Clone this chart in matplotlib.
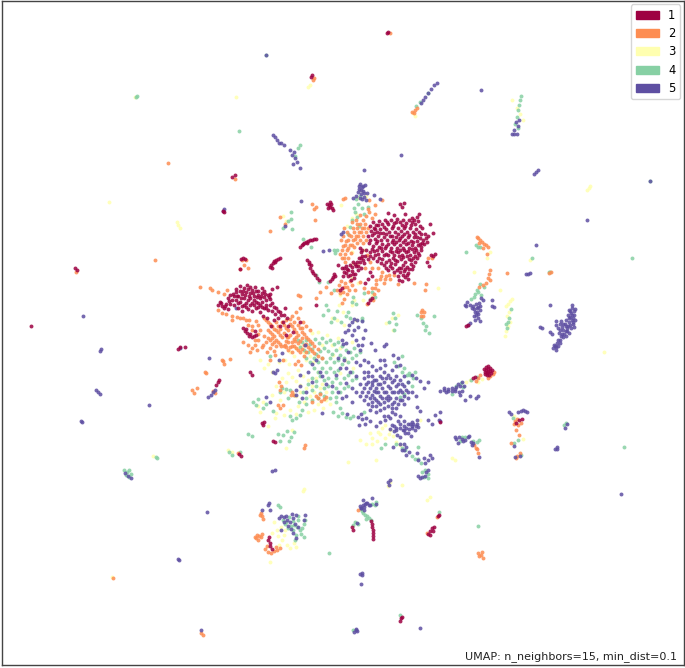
import numpy as np
import matplotlib
matplotlib.use("Agg")
import matplotlib.pyplot as plt
from matplotlib.patches import Patch

# points, in picture coordinates
labels = ["1", "2", "3", "4", "5"]
colors = ["#9e0142", "#fd8d52", "#ffffb0", "#87d0a4", "#5e4fa2"]

pts_1 = [(388,32),(387,33),(312,75),(311,77),(75,268),(77,270),(31,326),(232,177),(235,175),(223,211),(224,212),
    (401,618),(400,621),(402,617),(180,347),(178,349),(216,385),(218,382),(219,380),(250,372),(252,375),(262,423),(263,425),
    (273,441),(275,442),(440,422),(466,326),(468,325),(473,378),(475,377),(519,420),(522,419),(516,423),
    (268,540),(270,543),(270,546),(272,549),(269,537),(352,527),(353,530),(371,521),(372,524),(372,527),(373,530),(373,533),(373,536),(373,539),
    (428,534),(430,531),(432,528),(430,535),(433,531),(434,527),(439,515),(438,516),(264,422),(239,454),(241,456),(185,347),
    # blob at the right
    (484,369),(485,372),(486,367),(486,370),(487,373),(488,366),(488,369),(488,372),(489,375),(490,368),(490,371),(491,373),(485,374),(487,375),(492,370),
    # streaks
    (300,247),(302,245),(304,243),(306,242),(308,241),(310,240),(312,240),(314,239),(316,239),(303,244),(307,243),(270,267),(271,265),(273,263),(274,261),(276,260),(278,259),(280,258),(272,268),(275,262),
    (307,260),(309,262),(311,265),(310,268),(312,271),(313,273),(309,264),(315,275),(317,278),(319,280),(330,281),(332,279),(333,277),(335,276),(334,274),
    (327,204),(329,205),(331,204),(330,207),(332,208),(328,208),(333,210),(330,202),(241,259),(243,258),(245,259),(240,269),
    (243,328),(245,331),(247,333),(249,336),(252,337),(254,336),(256,335),(255,331),(250,334),(246,329),
    # left cluster
    (218,305),(220,302),(222,306),(224,308),(226,304),(228,309),(230,304),(232,300),(234,296),(236,292),(238,296),(240,291),(242,294),(244,288),(246,292),(248,289),
    (250,293),(252,290),(254,296),(256,291),(258,295),(260,298),(262,293),(264,297),(266,300),(268,295),(270,299),(272,303),(236,300),(240,302),(244,298),(248,300),
    (252,303),(256,302),(260,305),(264,308),(268,310),(272,311),(276,308),(280,312),(284,315),(287,318),(244,305),(248,309),(252,311),(256,308),(260,312),(250,298),
    (254,300),(258,307),(234,305),(238,308),(242,311),(246,303),(240,286),(247,285),(255,287),(262,288),(272,289),(277,287),(233,294),(228,298),(262,302),(266,305),
    (278,318),(283,322),(280,326),(288,326),(293,332),(271,326),(274,320),(267,318),(263,316),(285,308),(300,322),(286,335),
    # big cluster
    (370,226),(373,222),(376,225),(379,221),(382,224),(385,220),(388,224),(391,220),(394,223),(397,219),(400,222),(403,220),(406,223),(409,220),(412,222),(415,224),(418,221),
    (371,231),(374,228),(377,232),(380,229),(383,233),(386,229),(389,232),(392,228),(395,232),(398,228),(401,231),(404,228),(407,232),(410,228),(413,232),(416,229),(419,232),(422,228),(425,234),(428,236),
    (368,236),(372,235),(375,239),(378,236),(381,240),(384,237),(387,240),(390,236),(393,240),(396,237),(399,240),(402,236),(405,240),(408,237),(411,241),(414,237),(417,241),(420,238),(423,240),(426,238),
    (369,243),(373,246),(376,243),(379,247),(382,244),(385,248),(388,244),(391,248),(394,244),(397,248),(400,245),(403,248),(406,244),(409,248),(412,245),(415,248),(418,245),(421,247),(424,244),
    (366,250),(370,252),(374,251),(378,254),(382,251),(386,254),(390,251),(394,255),(398,252),(402,255),(406,252),(410,255),(414,252),(418,253),(421,250),
    (368,259),(373,258),(377,261),(382,259),(389,260),(393,258),(397,261),(401,259),(405,262),(409,259),(413,258),(417,258),
    (384,265),(390,266),(395,264),(399,268),(403,265),(407,267),(411,264),(415,262),(388,270),(394,272),(400,272),(404,271),(408,273),(412,269),(398,276),(405,277),(402,281),(408,279),(400,204),
    (402,207),(404,203),(388,213),(394,215),(405,214),(412,218),(417,217),(419,214),(430,224),(433,233),(435,254),(433,256),(431,255),(427,262),(429,266),
    (360,248),(361,252),(362,256),(363,260),(364,263),(359,258),(357,262),(356,266),(353,262),(350,265),(346,266),(342,268),(344,272),(348,270),(352,271),(355,274),
    (358,270),(361,268),(348,276),(351,280),(354,278),(343,276),(370,272),(372,276),(368,279),(365,283),(372,298),(370,300),(368,303),(342,288),(340,290),(316,305),(338,265)]

# denser filling of the crimson masses
core_1 = [(375,229),(378,225),(384,227),(387,222),(393,226),(396,222),(402,225),(405,226),(411,225),(414,220),(420,226),(370,240),(374,233),(377,241),(380,233),(386,234),(392,236),(398,234),(404,234),(409,235),(415,234),(421,234),
    (372,249),(377,250),(381,248),(386,246),(392,242),(396,242),(400,238),(403,242),(408,243),(413,242),(417,237),(422,243),(427,242),(379,258),(384,255),(388,255),(392,252),(396,251),(400,250),(404,250),(408,251),(412,249),(416,250),
    (420,244),(370,256),(375,255),(381,263),(386,262),(391,263),(395,260),(399,256),(403,257),(407,256),(411,260),(415,256),(419,255),(386,268),(392,268),(397,270),(401,268),(405,269),(409,269),(413,266),(403,275),(407,275),(399,280),
    (221,303),(225,306),(229,301),(237,296),(241,298),(245,295),(249,296),(253,293),(257,297),(261,296),(265,294),(269,297),(238,303),(242,306),(246,307),(250,305),(254,305),(258,303),(262,307),(266,308),(270,305),(236,289),(243,291),
    (250,287),(258,291),(264,291),(270,294),(230,295),(274,307),(278,311),(281,315),(275,314),(355,264),(358,266),(352,267),(347,269),(344,268),(350,275),(353,274),(346,273),(361,258),(360,262),(362,250),(365,256)]

pts_2 = [(390,33),(313,80),(314,78),(76,272),(223,361),(230,359),(168,163),(235,179),(201,633),(203,635),(238,453),(113,578),(155,260),
    (478,238),(480,240),(482,242),(484,244),(486,245),(488,247),(477,237),(479,243),(483,248),(487,254),(490,270),(489,274),(488,278),(486,283),(490,280),(483,285),(479,287),(507,273),
    (415,110),(414,113),(412,112),(417,108),(551,272),(549,273),(516,430),(518,425),(515,421),(519,435),(520,453),(517,456),(516,458),(511,443),(478,453),(476,448),(474,445),(477,449),
    (478,378),(480,375),(476,381),(493,374),(490,376),(488,378),(494,372),(514,424),(521,423),(517,419),
    (257,535),(259,536),(261,537),(256,538),(258,540),(255,537),(262,534),(261,513),(262,516),(263,519),(260,515),(268,552),(271,553),(274,551),(277,550),(265,549),(267,546),(276,547),(280,548),
    (478,553),(481,555),(483,558),(479,556),(482,552),(427,533),(437,517),(358,510),(345,198),(343,199),
    (285,345),(288,342),(292,346),(295,341),(278,405),(280,408),(283,405),(316,396),(318,398),(321,401),(324,399),(326,397),(320,394),(312,402),(305,445),(304,448),(291,395),(292,392),(294,395),
    (279,382),(281,386),(280,390),(258,340),(255,345),(257,350),(262,347),(267,352),(270,348),(274,351),(276,346),(281,346),(287,337),(278,342),(272,338),(301,365),(298,361),(295,364),
    (256,321),(258,325),(252,326),(248,325),(246,320),(243,318),(240,318),(237,317),(232,316),(226,314),(222,313),(218,310),(212,290),(210,288),(218,292),(224,294),(227,290),
    # lower left fan
    (264,318),(268,322),(272,326),(276,322),(280,329),(284,325),(288,330),(292,326),(296,332),(300,328),(304,334),(308,339),(312,343),(318,349),(270,332),(274,336),(278,332),(282,337),(286,341),(290,335),
    (294,339),(298,343),(302,338),(306,344),(310,349),(314,353),(318,356),(322,358),(260,330),(264,336),(268,338),(272,344),(276,340),(284,346),(288,350),(292,352),(296,348),(300,352),(304,356),
    (286,320),(292,316),(296,312),(298,318),(303,322),(306,326),(310,330),(300,308),(298,295),(300,296),(255,340),(258,334),(252,330),(243,342),(248,345),(252,348),(263,345),(249,320),(283,360),
    (232,320),(270,360),(275,355),(250,352),
    # upper cluster edge
    (342,250),(345,254),(348,258),(351,253),(354,247),(357,243),(360,240),(363,236),(366,232),(345,245),(348,240),(351,236),(354,232),(357,228),(360,224),(363,220),(366,216),(369,212),(372,218),(375,214),
    (342,258),(345,262),(350,245),(353,240),(356,236),(359,232),(362,228),(365,224),(368,228),(352,222),(356,220),(360,215),(347,232),(343,236),(341,240),(344,228),(367,255),(370,262),(365,268),(372,268),(378,268),
    (382,272),(386,276),(390,279),(394,275),(380,279),(384,283),(376,284),(372,288),(378,290),(352,285),(349,290),(347,294),(344,299),(342,303),(350,281),(345,283),(341,281),(339,285),(337,290),(343,292),
    (355,290),(360,282),(364,288),(368,292),(374,294),(376,280),(425,290),(426,284),(421,312),(423,316),(421,316),(424,312),(422,310),(368,209),(375,205),(369,200),(382,200),(320,292),(316,298),(331,293),
    (373,300),(367,304),(200,287),(398,284),(414,283),(312,204),(314,209),(316,207),(326,287),
    (315,220),(280,217),(270,231),(240,269),(244,265),(248,268),(242,260),(246,260),(285,224),(428,258),(432,258),
    (197,388),(192,390),(194,393),(205,372),(206,373),(222,360),(224,364),(215,393),(213,391)]

core_2 = [(266,320),(270,324),(274,329),(278,326),(282,322),(286,328),(290,324),(294,329),(298,335),(302,332),(306,337),(310,341),(314,346),(268,330),(272,334),(276,330),(280,335),(284,333),(288,337),(292,342),(296,337),(300,341),(304,345),
    (308,347),(312,351),(266,342),(270,340),(274,342),(280,344),(286,347),(290,347),(294,346),(298,350),(302,349),(306,352),(294,322),(298,325),(302,328),(290,319),(348,248),(352,245),(355,239),(358,236),(361,232),(364,228),(349,235),
    (346,241),(343,246),(353,228),(357,224),(347,250),(344,258),(340,254),(363,243),(366,240),(381,276),(385,279),(389,275),(375,288),(347,287),(344,287),(340,293)]

pts_3 = [(109,202),(135,97),(236,97),(178,225),(180,228),(177,222),(153,456),(310,85),(308,87),(413,113),(590,186),(587,190),(589,188),(604,352),(112,577),
    (510,301),(512,299),(508,304),(506,306),(510,322),(508,326),(506,331),(505,336),(507,316),(509,312),(304,489),(303,491),(376,460),(348,462),(474,272),(487,258),
    (438,288),(385,425),(390,430),(382,428),(378,432),(393,436),(385,438),(380,434),(389,434),(400,445),(396,442),(372,438),(352,252),(353,263),(341,205),(283,216),(286,221),
    (270,562),(282,540),(284,535),(279,545),(287,545),(290,548),(296,547),(294,543),(277,530),(281,527),(285,530),(274,522),(278,536),(272,533),
    (288,373),(292,377),(296,381),(300,385),(286,382),(282,378),(279,362),(285,360),(289,364),(294,356),(290,352),(296,348),(300,346),(304,352),(310,356),(306,360),(313,362),(318,372),
    (298,370),(303,376),(308,380),(312,386),(316,378),(322,384),(326,392),(314,392),(320,388),(306,388),(300,392),(296,396),(310,396),(304,402),(298,406),(326,400),(330,404),(318,404),(323,408),(314,410),(308,412),
    (272,372),(268,364),(264,368),(260,360),(284,392),(276,386),(280,400),(272,395),(260,412),(258,406),(263,402),(290,410),(296,414),(284,415),(275,418),(340,373),(345,360),(352,342),(344,325),(338,338),
    (332,345),(322,345),(327,335),(318,332),(312,333),(356,320),(372,295),(352,305),(339,305),(343,312),(332,318),(337,320),(363,300),(358,283),(352,278),(358,265),(393,330),(392,318),(398,315),(386,323),
    (364,250),(340,295),(354,300),(356,214),(352,218),(347,226),(361,190),(358,198),(366,196),(415,116),(512,100),(520,114),(523,120),(517,108),(530,260),(490,252),(500,290),(478,382),(482,379),(466,382),(470,380),
    (276,413),(268,426),(292,430),(286,448),(228,450),(232,452),(523,439),(514,416),(420,420),(360,440),(366,444),(372,444),(377,441),(370,433),(455,460),(452,458),(402,485),(430,497),(427,500),(390,482),(388,486),(353,368),(340,348),(333,355)]

pts_4 = [(136,97),(137,96),(650,181),(632,258),(156,457),(157,458),(127,472),(129,470),(131,474),(126,475),(124,470),(129,477),(564,425),(566,423),(624,447),(549,272),(266,55),(239,131),
    (428,93),(420,102),(416,106),(518,110),(519,105),(520,100),(521,96),(517,117),(515,124),(518,128),(295,156),(298,148),(300,145),(508,322),(507,328),(506,324),(509,318),(511,309),(480,284),(484,287),(477,290),(474,297),(471,299),
    (478,292),(481,295),(475,294),(466,252),(476,245),(478,247),(480,247),(550,272),(532,258),(518,440),(514,443),(462,437),(465,437),(460,441),(473,441),(477,442),(479,440),(471,380),(477,377),(461,383),(463,387),(456,386),(452,394),
    (283,435),(287,431),(291,437),(289,441),(278,434),(280,441),(294,432),(232,455),(240,452),(229,452),(270,356),(258,399),(253,402),(256,405),(263,408),(273,411),(266,404),(248,434),(252,436),
    # stem up from centre
    (360,196),(358,204),(362,208),(355,212),(352,220),(357,217),(359,226),(350,227),(364,214),(356,199),(354,208),(368,207),(348,234),(291,212),(288,221),(291,219),(283,228),(292,229),(303,239),(311,247),(334,250),
    (335,253),(337,250),(316,275),(319,282),(328,282),(334,290),(326,305),(328,310),(323,315),(337,311),(334,318),(331,322),(346,316),(350,318),(348,312),(341,322),(356,304),(353,297),(364,293),(370,299),(375,297),(352,302),
    (393,313),(395,318),(389,322),(396,324),(394,330),(421,318),(425,330),(429,333),(426,326),(434,316),(417,315),(423,323),(372,292),(362,318),(362,320),
    # centre mass
    (298,340),(302,342),(306,340),(310,344),(315,339),(319,343),(322,338),(326,342),(330,340),(334,344),(338,342),(342,346),(346,350),(350,352),(354,348),(300,347),(304,350),(308,352),(312,349),(316,354),(320,351),
    (324,348),(328,351),(332,354),(336,350),(340,355),(344,358),(348,362),(352,358),(356,355),(360,352),(306,358),(310,362),(314,358),(318,362),(322,358),(326,362),(330,358),(334,362),(338,360),(342,364),(330,368),(326,372),
    (322,368),(318,372),(314,368),(334,372),(338,370),(320,376),(316,381),(324,380),(328,378),(332,382),(336,378),(340,383),(344,378),(348,375),(352,372),(312,378),(308,384),(312,390),(316,386),(320,393),(324,388),(328,386),
    (332,392),(336,388),(340,392),(344,388),(348,386),(352,380),(356,378),(303,392),(306,398),(299,402),(294,395),(290,390),(286,389),(282,388),(280,392),(288,398),(306,404),(312,400),(318,398),(324,396),(330,398),(336,397),
    (302,410),(300,415),(296,418),(292,420),(290,416),(340,408),(336,402),(333,412),(338,416),(342,413),(346,417),(350,418),(353,416),(364,412),(394,362),(398,366),(402,372),(404,368),(402,356),(409,373),(413,378),
    (415,372),(408,382),(412,386),(404,394),(400,397),(407,375),(410,375),(381,448),(385,444),(396,444),(402,448),(405,450),(412,456),(415,459),(418,459),(421,463),(424,477),(428,474),(425,470),(422,472),(428,478),
    (278,505),(280,507),(283,520),(285,524),(288,528),(291,526),(294,525),(297,527),(293,521),(298,520),(289,517),(286,522),(300,530),(302,528),(304,524),(293,530),(296,535),(301,534),(304,537),(295,540),(298,516),(305,520),
    (361,509),(363,513),(365,515),(367,516),(369,518),(366,519),(362,511),(371,520),(355,522),(358,524),(353,525),(375,505),(376,502),(372,504),(439,512),(478,526),(329,553),(353,630),(400,615),(418,447),(521,455),(513,418)]

pts_5 = [(266,55),(357,631),(356,629),(354,632),(401,155),(364,170),(481,90),(536,172),(538,170),(534,174),(650,181),(587,220),(179,560),(178,559),(207,512),(621,494),(557,449),(550,305),
    (275,137),(277,140),(273,135),(279,143),(284,145),(294,152),(292,155),(295,158),(290,150),(281,143),(297,162),(293,164),(300,168),
    (423,100),(425,97),(428,93),(431,89),(434,85),(437,83),(421,103),(516,122),(518,126),(514,130),(517,134),(514,134),(519,120),(512,134),
    (83,316),(100,351),(101,349),(96,390),(98,392),(100,394),(82,422),(81,421),(149,405),(180,348),(209,358),(208,397),(211,395),(213,392),(215,390),(125,473),(128,476),(131,478),(236,308),(305,345),(262,510),
    # stem at the top
    (360,184),(362,187),(359,189),(363,191),(361,194),(364,197),(358,192),(366,200),(362,199),(367,193),(365,185),(356,196),(353,198),(374,195),(380,199),(301,201),(223,211),(224,209),(323,251),(329,250),
    (285,226),(343,232),(341,234),
    # right mass
    (572,308),(574,311),(571,313),(574,315),(570,317),(572,320),(575,320),(569,322),(573,324),(568,326),(571,328),(574,327),(565,324),(562,327),(560,324),(558,328),(556,325),(563,330),(566,331),
    (569,333),(566,336),(562,334),(559,333),(563,337),(560,340),(557,343),(555,346),(558,346),(553,348),(556,350),(540,327),(542,328),(550,332),(552,334),(556,321),(575,309),(572,305),(569,318),(567,328),(561,321),
    # right-hand small groups
    (467,302),(470,305),(473,306),(465,305),(476,304),(479,303),(481,298),(483,300),(478,307),(474,309),(477,312),(480,310),(476,315),(478,318),(475,320),(480,321),(492,300),(492,306),(494,307),(470,323),(468,325),
    (536,245),(528,274),(530,273),(526,274),(440,391),(444,390),(448,389),(452,388),(456,387),(460,386),(462,382),(464,386),(458,384),(455,391),(459,392),(462,391),
    (509,412),(511,414),(518,412),(521,411),(525,411),(527,412),(523,410),(555,449),(557,447),(565,428),(567,424),(514,446),(459,437),(462,439),(465,440),(471,442),(473,443),(468,437),(520,456),(515,457),
    (440,421),(439,420),(469,436),(463,441),(458,443),(456,439),(472,445),(365,504),(369,505),(367,503),(372,498),(363,500),(361,508),(364,507),(360,506),
    # centre mass
    (352,335),(354,330),(358,327),(356,340),(358,345),(360,350),(362,345),(348,330),(352,322),(357,320),(365,330),(363,338),(348,352),(344,360),(340,368),(336,375),(346,368),(350,372),(356,362),(360,365),
    (364,360),(368,362),(372,366),(376,370),(380,368),(368,372),(372,376),(376,380),(380,376),(384,372),(388,375),(392,370),(396,376),(400,380),(404,376),(364,378),(368,382),(372,385),(376,388),(380,384),
    (384,382),(388,386),(392,382),(396,386),(400,390),(404,386),(408,382),(360,384),(364,388),(368,392),(372,395),(376,392),(380,396),(384,392),(388,396),(392,392),(396,398),(400,400),(404,396),(408,392),
    (356,392),(360,396),(364,400),(368,404),(372,402),(376,400),(380,404),(384,402),(388,400),(392,404),(352,402),(346,396),(342,398),(338,392),(332,386),(326,384),(346,383),(352,388),(356,376),(412,375),
    (416,378),(420,381),(424,388),(428,382),(412,392),(416,396),(408,398),(404,404),(396,408),(392,412),(388,416),(376,412),(370,410),(366,418),(361,414),(347,414),(384,416),(380,422),(376,426),(370,421),(365,424),
    (385,420),(390,418),(395,414),(400,416),(404,421),(362,419),(358,417),(359,425),(444,388),(446,392),(320,372),(316,360),(312,364),(322,376),(308,372),(312,382),(300,375),(296,395),(302,398),(322,413),(306,392),
    (279,360),(282,353),(277,370),(275,373),(273,372),(270,402),(266,397),(300,386),(296,390),(338,358),(342,340),(346,343),
    (349,325),(345,332),(343,344),(384,346),(386,344),(371,343),(362,321),(354,319),(375,350),(380,360),(385,365),(393,355),(384,360),(400,365),(398,358),(396,366),
    (420,411),(417,407),(408,424),(404,426),(400,424),(396,428),(392,425),(398,421),(390,429),(394,431),(403,430),(406,428),(409,429),(412,428),(415,430),(418,427),(413,424),(417,424),(417,420),(412,422),(411,436),(405,433),
    (400,437),(397,435),(400,444),(404,444),(402,450),(406,447),(409,452),(406,455),(404,450),(417,453),(418,460),(425,463),(428,460),(432,458),(424,458),(430,455),(422,477),(425,476),(418,476),(420,478),(426,472),(428,470),
    (455,437),(479,457),(389,485),(388,482),(390,480),(478,396),(476,398),(470,396),(465,400),(460,395),(428,420),(432,424),(440,412),(435,415),(393,447),
    # cluster below
    (268,505),(269,503),(270,510),(279,518),(281,516),(284,517),(286,516),(287,520),(290,522),(293,518),(296,515),(292,514),(288,526),(295,524),(298,527),(291,529),(293,533),(296,538),(304,520),(305,515),(281,530),(284,522),
    (361,508),(363,505),(366,503),(370,505),(364,510),(376,504),(357,523),(361,584),(362,575),(360,574),(362,573),(275,470),(272,471),(201,630),(356,630),(420,628)]

core_5 = [(566,320),(568,315),(570,311),(573,318),(566,326),(563,324),(560,330),(564,334),(567,331),(570,325),(572,315),(561,336),(558,340),(556,347),(560,343),(554,345),(573,322),(569,310),(359,186),(361,190),(364,193),(360,198),(363,186),
    (466,306),(472,308),(475,312),(478,314),(480,306),(474,316),(477,308),(374,380),(378,384),(382,378),(386,378),(390,378),(394,380),(398,384),(402,384),(370,388),(374,391),(378,392),(382,388),(386,392),(390,388),(394,392),(398,392),
    (402,392),(406,390),(366,384),(362,392),(366,396),(370,398),(374,398),(378,402),(382,398),(386,398),(390,398),(394,402),(398,404),(402,400),(368,376),(364,372),(372,382),(396,430),(400,428),(404,430),(408,433),(394,426),(412,426),
    (416,426),(410,424),(455,389),(448,391),(452,391),(372,406),(376,406),(380,410),(384,408),(388,406),(392,408)]

all_pts = [pts_1 + core_1, pts_2 + core_2, pts_3, pts_4, pts_5 + core_5]
draw_order = [2, 3, 1, 4, 0]

fig = plt.figure(figsize=(6.85, 6.68), dpi=100)
ax = fig.add_axes([1.5 / 685, 3 / 668, 682 / 685, 664 / 668])

for i in draw_order:
    p = np.array(all_pts[i])
    ax.scatter(p[:, 0], p[:, 1], s=8, c=colors[i], alpha=0.85, linewidths=0)

ax.set_xlim(1.5, 683.5)
ax.set_ylim(665, 1)
ax.set_xticks([])
ax.set_yticks([])
for sp in ax.spines.values():
    sp.set_color("#444444")
    sp.set_linewidth(1.0)

handles = [Patch(color=c, label=l) for c, l in zip(colors, labels)]
ax.legend(handles=handles, loc="upper right", fontsize=8.3, borderaxespad=0.3,
          labelspacing=0.45, handlelength=2.0, handletextpad=0.8)
ax.text(0.990, 0.0045, "UMAP: n_neighbors=15, min_dist=0.1", transform=ax.transAxes,
        ha="right", va="bottom", fontsize=8, color="#222222")

fig.savefig("out.png", dpi=100)
